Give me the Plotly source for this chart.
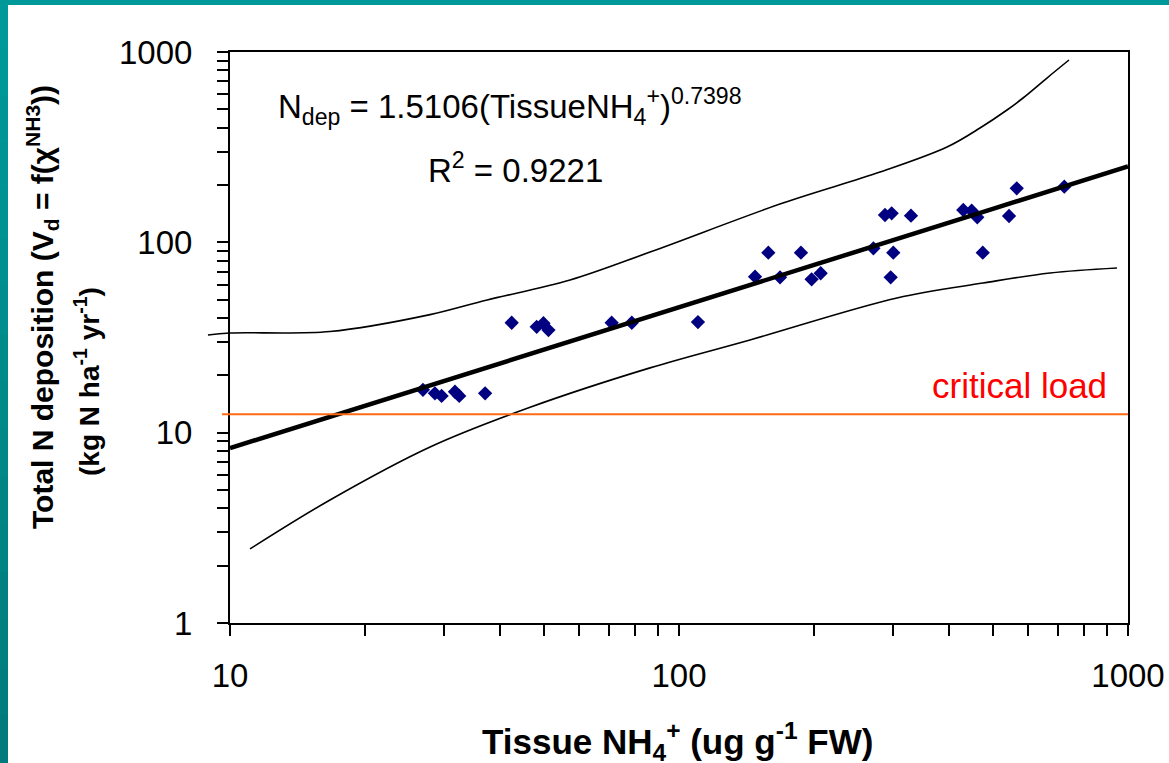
import plotly.graph_objects as go

# ---------------- data ----------------
tissue_nh4 = [26.9, 28.6, 29.6, 31.7, 32.4, 37.0, 42.4, 48.2, 49.9, 51.2, 70.8, 78.5, 110.2,
              147.7, 158.1, 167.9, 186.9, 197.4, 206.8, 271.0, 287.6, 297.6, 300.1, 296.1,
              328.6, 429.7, 448.6, 461.7, 474.8, 543.3, 565.2, 721.3]
n_dep = [16.8, 16.1, 15.6, 16.4, 15.6, 16.1, 37.8, 36.0, 37.6, 34.6, 37.8, 37.8, 38.1,
         66.0, 88.2, 65.5, 88.2, 63.9, 68.8, 93.0, 139.2, 142.1, 88.2, 65.5,
         138.0, 147.9, 146.6, 135.3, 88.2, 137.5, 192.2, 196.0]

fit_x = [10, 20, 30, 50, 100, 200, 500, 1000]
fit_y = [8.30, 13.9, 18.7, 27.3, 45.6, 76.1, 149.9, 250.5]

upper_x = [8.93, 10.0, 16.7, 27.9, 37.4, 57.2, 86.2, 170.4, 280.3, 395.3, 468.1, 537.7, 583.7, 659.9, 738.9]
upper_y = [32.6, 33.4, 34.0, 41.7, 49.8, 63.4, 88.9, 160.9, 234.0, 316.9, 398.7, 495.8, 573.2, 730.0, 907.8]

lower_x = [11.08, 16.7, 27.9, 46.6, 86.2, 143.9, 305.8, 475.5, 670.5, 945.0]
lower_y = [2.45, 4.43, 8.41, 13.6, 21.9, 30.7, 51.0, 61.1, 69.0, 73.3]

critical_load = 12.5
crit_x = [9.6, 1000]

x_tickvals = [10, 20, 30, 40, 50, 60, 70, 80, 90, 100, 200, 300, 400, 500, 600, 700, 800, 900, 1000]
x_ticktext = ["10", "", "", "", "", "", "", "", "", "100", "", "", "", "", "", "", "", "", "1000"]
y_tickvals = [1, 2, 3, 4, 5, 6, 7, 8, 9, 10, 20, 30, 40, 50, 60, 70, 80, 90, 100,
              200, 300, 400, 500, 600, 700, 800, 900, 1000]
y_ticktext = ["1", "", "", "", "", "", "", "", "", "10", "", "", "", "", "", "", "", "", "100",
              "", "", "", "", "", "", "", "", "1000"]

# ---------------- layout geometry ----------------
W, H = 1169, 763
ML, MR, MT, MB = 200, 41, 52, 140
PW, PH = W - ML - MR, H - MT - MB
AXIS_LEFT_PX = 230
PX_PER_DECADE = (W - MR - AXIS_LEFT_PX) / 2.0


def px2x(px):
    return (px - ML) / PW


def px2y(py):
    return (H - MB - py) / PH


FONT = "Liberation Sans, Arial, sans-serif"

fig = go.Figure()

fig.add_trace(go.Scatter(x=tissue_nh4, y=n_dep, mode="markers",
                         marker=dict(symbol="diamond", size=11, color="#000080",
                                     line=dict(width=0)),
                         xaxis="x", yaxis="y", showlegend=False))
fig.add_trace(go.Scatter(x=crit_x, y=[critical_load, critical_load], mode="lines",
                         line=dict(color="#FF6A10", width=2), xaxis="x2", yaxis="y",
                         showlegend=False))
fig.add_trace(go.Scatter(x=lower_x, y=lower_y, mode="lines", line_shape="spline",
                         line=dict(color="black", width=1.6), showlegend=False))
fig.add_trace(go.Scatter(x=upper_x, y=upper_y, mode="lines", line_shape="spline",
                         line=dict(color="black", width=1.6), xaxis="x2", yaxis="y",
                         showlegend=False))
fig.add_trace(go.Scatter(x=fit_x, y=fit_y, mode="lines",
                         line=dict(color="black", width=4.5), showlegend=False))

axis_common = dict(type="log", showgrid=False, zeroline=False, showline=True,
                   linecolor="black", linewidth=2, mirror=True, ticks="outside",
                   ticklen=11, tickwidth=2, tickcolor="black", automargin=False,
                   tickfont=dict(family=FONT, size=33, color="black"))

fig.update_layout(
    width=W, height=H, autosize=False,
    margin=dict(l=ML, r=MR, t=MT, b=MB, pad=0, autoexpand=False),
    paper_bgcolor="white", plot_bgcolor="rgba(0,0,0,0)",
    xaxis=dict(axis_common, range=[1, 3], domain=[px2x(AXIS_LEFT_PX), 1], anchor="y",
               tickvals=x_tickvals, ticktext=x_ticktext, ticklabelstandoff=11),
    xaxis2=dict(type="log", range=[3 - PW / PX_PER_DECADE, 3], domain=[0, 1],
                anchor="y", visible=False, showgrid=False, automargin=False),
    yaxis=dict(axis_common, range=[0, 3], domain=[0, 1], anchor="x",
               tickvals=y_tickvals, ticktext=y_ticktext, ticklabelstandoff=18),
    showlegend=False,
)

ann = []
ann.append(dict(text="N<sub>dep</sub> = 1.5106(TissueNH<sub>4</sub><sup>+</sup>)<sup>0.7398</sup>",
                x=px2x(276), y=px2y(106), xanchor="left", yanchor="middle"))
ann.append(dict(text="R<sup>2</sup> = 0.9221", x=px2x(426), y=px2y(168),
                xanchor="left", yanchor="middle"))
ann.append(dict(text="critical load", x=px2x(930), y=px2y(386), xanchor="left",
                yanchor="middle", font=dict(family=FONT, size=35, color="#FF0000")))
ann.append(dict(text="<b>Tissue NH<sub>4</sub><sup>+</sup> (ug g<sup>-1</sup> FW)</b>",
                x=px2x(677), y=px2y(741), xanchor="center", yanchor="middle",
                font=dict(family=FONT, size=35, color="black")))
ann.append(dict(text="<b>Total N deposition (V<sub>d</sub> = f(χ<sup>NH3</sup>))</b>",
                x=px2x(42), y=px2y(307), xanchor="center", yanchor="middle", textangle=-90,
                font=dict(family=FONT, size=30, color="black")))
ann.append(dict(text="<b>(kg N ha<sup>-1</sup> yr<sup>-1</sup>)</b>",
                x=px2x(87), y=px2y(382), xanchor="center", yanchor="middle", textangle=-90,
                font=dict(family=FONT, size=28, color="black")))
for a in ann:
    a.setdefault("font", dict(family=FONT, size=33, color="black"))
    a.update(xref="paper", yref="paper", showarrow=False)
fig.update_layout(annotations=ann)

# teal frame (top band and shaded left band)
shapes = [dict(type="rect", xref="paper", yref="paper", x0=px2x(0), x1=px2x(W),
               y0=px2y(5), y1=px2y(0), fillcolor="#009999", line=dict(width=0), layer="above")]
n_seg = 16
for i in range(n_seg):
    t = i / (n_seg - 1)
    g = int(round(153 - 30 * t))
    shapes.append(dict(type="rect", xref="paper", yref="paper", x0=px2x(0), x1=px2x(8),
                       y0=px2y(H * (i + 1) / n_seg + 1), y1=px2y(H * i / n_seg),
                       fillcolor=f"rgb(0,{g},{g})", line=dict(width=0), layer="above"))
fig.update_layout(shapes=shapes)

fig.write_html("out.html")
